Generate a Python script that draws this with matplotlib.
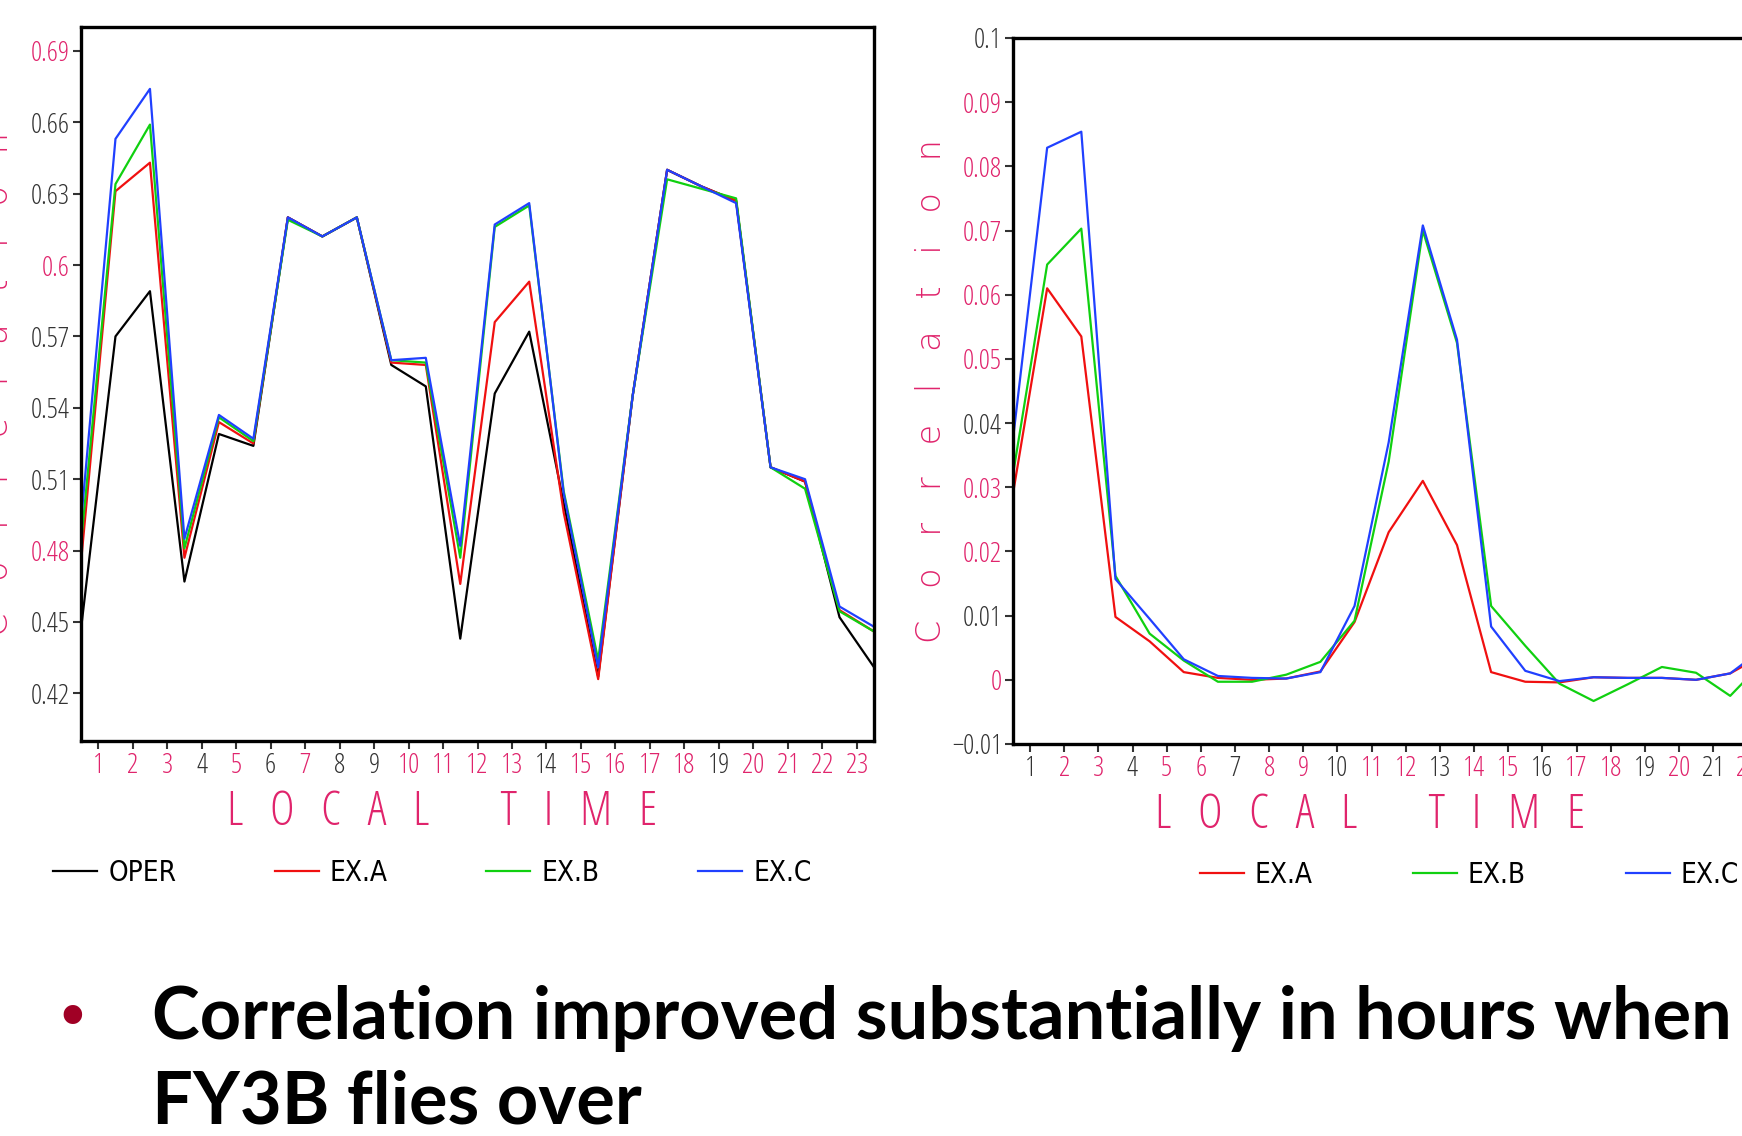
import matplotlib
matplotlib.use("Agg")
import matplotlib.pyplot as plt
import numpy as np

# hourly values, plotted half way between the hour ticks
hours = np.arange(24) + 0.5
hour_ticks = list(range(1, 24))

# left panel: correlation
oper = [0.447, 0.570, 0.589, 0.467, 0.529, 0.524, 0.620, 0.612, 0.620, 0.558, 0.549, 0.443,
        0.546, 0.572, 0.500, 0.427, 0.545, 0.640, 0.633, 0.627, 0.515, 0.509, 0.452, 0.431]
ex_a = [0.475, 0.631, 0.643, 0.477, 0.534, 0.525, 0.620, 0.612, 0.620, 0.559, 0.558, 0.466,
        0.576, 0.593, 0.496, 0.426, 0.545, 0.640, 0.633, 0.627, 0.515, 0.509, 0.455, 0.446]
ex_b = [0.483, 0.634, 0.659, 0.481, 0.536, 0.526, 0.619, 0.612, 0.620, 0.560, 0.559, 0.477,
        0.616, 0.625, 0.505, 0.434, 0.545, 0.636, 0.632, 0.628, 0.515, 0.506, 0.4545, 0.446]
ex_c = [0.492, 0.653, 0.674, 0.485, 0.537, 0.527, 0.620, 0.612, 0.620, 0.560, 0.561, 0.482,
        0.617, 0.626, 0.504, 0.431, 0.545, 0.640, 0.633, 0.626, 0.515, 0.510, 0.4565, 0.448]
left_yticks = [0.42, 0.45, 0.48, 0.51, 0.54, 0.57, 0.6, 0.63, 0.66, 0.69]
left_ylabels = ["0.42", "0.45", "0.48", "0.51", "0.54", "0.57", "0.6", "0.63", "0.66", "0.69"]

# right panel: correlation improvement
d_a = [0.029, 0.061, 0.0535, 0.0098, 0.006, 0.0012, 0.0003, 0.0, 0.0002, 0.0013, 0.009, 0.023,
       0.031, 0.021, 0.0012, -0.0003, -0.0004, 0.0004, 0.0003, 0.0003, 0.0, 0.001, 0.004, 0.003]
d_b = [0.032, 0.0647, 0.0703, 0.0162, 0.0072, 0.003, -0.0003, -0.0003, 0.0008, 0.0028, 0.0092, 0.034,
       0.070, 0.0525, 0.0115, 0.0053, -0.0006, -0.0033, -0.0007, 0.002, 0.0011, -0.0025, 0.003, 0.002]
d_c = [0.0375, 0.0829, 0.0854, 0.0157, 0.0095, 0.0032, 0.0006, 0.0003, 0.0002, 0.0012, 0.0115, 0.037,
       0.0708, 0.053, 0.0083, 0.0014, -0.0002, 0.0004, 0.0003, 0.0003, 0.0, 0.001, 0.005, 0.004]
right_yticks = [-0.01, 0, 0.01, 0.02, 0.03, 0.04, 0.05, 0.06, 0.07, 0.08, 0.09, 0.1]
right_ylabels = ["\u22120.01", "0", "0.01", "0.02", "0.03", "0.04", "0.05", "0.06", "0.07", "0.08", "0.09", "0.1"]

PINK = "#e0246c"
DARK = "#333333"
narrow = {"family": "Open Sans", "fontstretch": "condensed", "fontweight": "light"}
thin = {"family": "DejaVu Sans", "fontweight": "light"}

# the plotting package mixed pink and dark in its labels
left_x_cols = "pppkpkpkkppppkppppkpppp"
left_y_cols = "kkpkkkpkkp"
right_x_cols = "kppkppkppkppkppkppkpkpp"
right_y_cols = "kpkppkpppppk"


def style_axes(ax, ylim, yticks, ylabels, ycols, xcols):
    ax.set_xlim(0.5, 23.5)
    ax.set_ylim(*ylim)
    ax.set_xticks(hour_ticks)
    ax.set_xticklabels([str(h) for h in hour_ticks], **narrow)
    ax.set_yticks(yticks)
    ax.set_yticklabels(ylabels, **narrow)
    ax.tick_params(direction="out", length=6, width=1.5, pad=2, labelsize=20, color="#333333")
    for lab, c in zip(ax.get_xticklabels(), xcols):
        lab.set_color(PINK if c == "p" else DARK)
    for lab, c in zip(ax.get_yticklabels(), ycols):
        lab.set_color(PINK if c == "p" else DARK)
    for s in ax.spines.values():
        s.set_linewidth(2.4)
        s.set_color("black")
    ax.text(0.455, -0.101, "L   O   C   A   L        T   I   M   E", transform=ax.transAxes,
            ha="center", va="center", fontsize=34, color=PINK, **narrow)
    ax.text(-0.104, 0.5, "C   o   r   r   e   l   a   t   i   o   n", transform=ax.transAxes,
            rotation=90, ha="center", va="center", fontsize=24, color=PINK, clip_on=False, **thin)


fig = plt.figure(figsize=(17.42, 11.36), dpi=100)
legend_font = {"family": "DejaVu Sans", "stretch": "condensed", "size": 20}

ax1 = fig.add_axes([81 / 1742, 1 - 741 / 1136, 793 / 1742, 714 / 1136])
ax1.plot(hours, oper, color="black", lw=1.6, label="OPER")
ax1.plot(hours, ex_a, color="#f01010", lw=1.6, label="EX.A")
ax1.plot(hours, ex_b, color="#10d010", lw=1.6, label="EX.B")
ax1.plot(hours, ex_c, color="#2040ff", lw=1.6, label="EX.C")
style_axes(ax1, (0.40, 0.70), left_yticks, left_ylabels, left_y_cols, left_x_cols)
ax1.legend(loc="center left", bbox_to_anchor=(-0.035, -0.185), ncol=4, frameon=False,
           borderpad=0, borderaxespad=0, handlelength=1.58, handletextpad=0.4,
           columnspacing=3.55, prop=legend_font)

ax2 = fig.add_axes([1013 / 1742, 1 - 744 / 1136, 785.5 / 1742, 706 / 1136])
ax2.plot(hours, d_a, color="#f01010", lw=1.6, label="EX.A")
ax2.plot(hours, d_b, color="#10d010", lw=1.6, label="EX.B")
ax2.plot(hours, d_c, color="#2040ff", lw=1.6, label="EX.C")
style_axes(ax2, (-0.01, 0.1), right_yticks, right_ylabels, right_y_cols, right_x_cols)
ax2.legend(loc="center left", bbox_to_anchor=(0.238, -0.1856), ncol=3, frameon=False,
           borderpad=0, borderaxespad=0, handlelength=1.58, handletextpad=0.4,
           columnspacing=3.6, prop=legend_font)

# slide text under the charts
fig.text(72 / 1742, 1 - 1021 / 1136, "\u2022", color="#a00025", fontsize=46,
         ha="center", va="center")
fig.text(152 / 1742, 1 - 1039 / 1136, "Correlation improved substantially in hours when",
         fontsize=52, fontweight="bold", family=["Lato", "DejaVu Sans"], va="baseline")
fig.text(152 / 1742, 1 - 1123 / 1136, "FY3B flies over",
         fontsize=52, fontweight="bold", family=["Lato", "DejaVu Sans"], va="baseline")

fig.savefig("out.png", dpi=100)
